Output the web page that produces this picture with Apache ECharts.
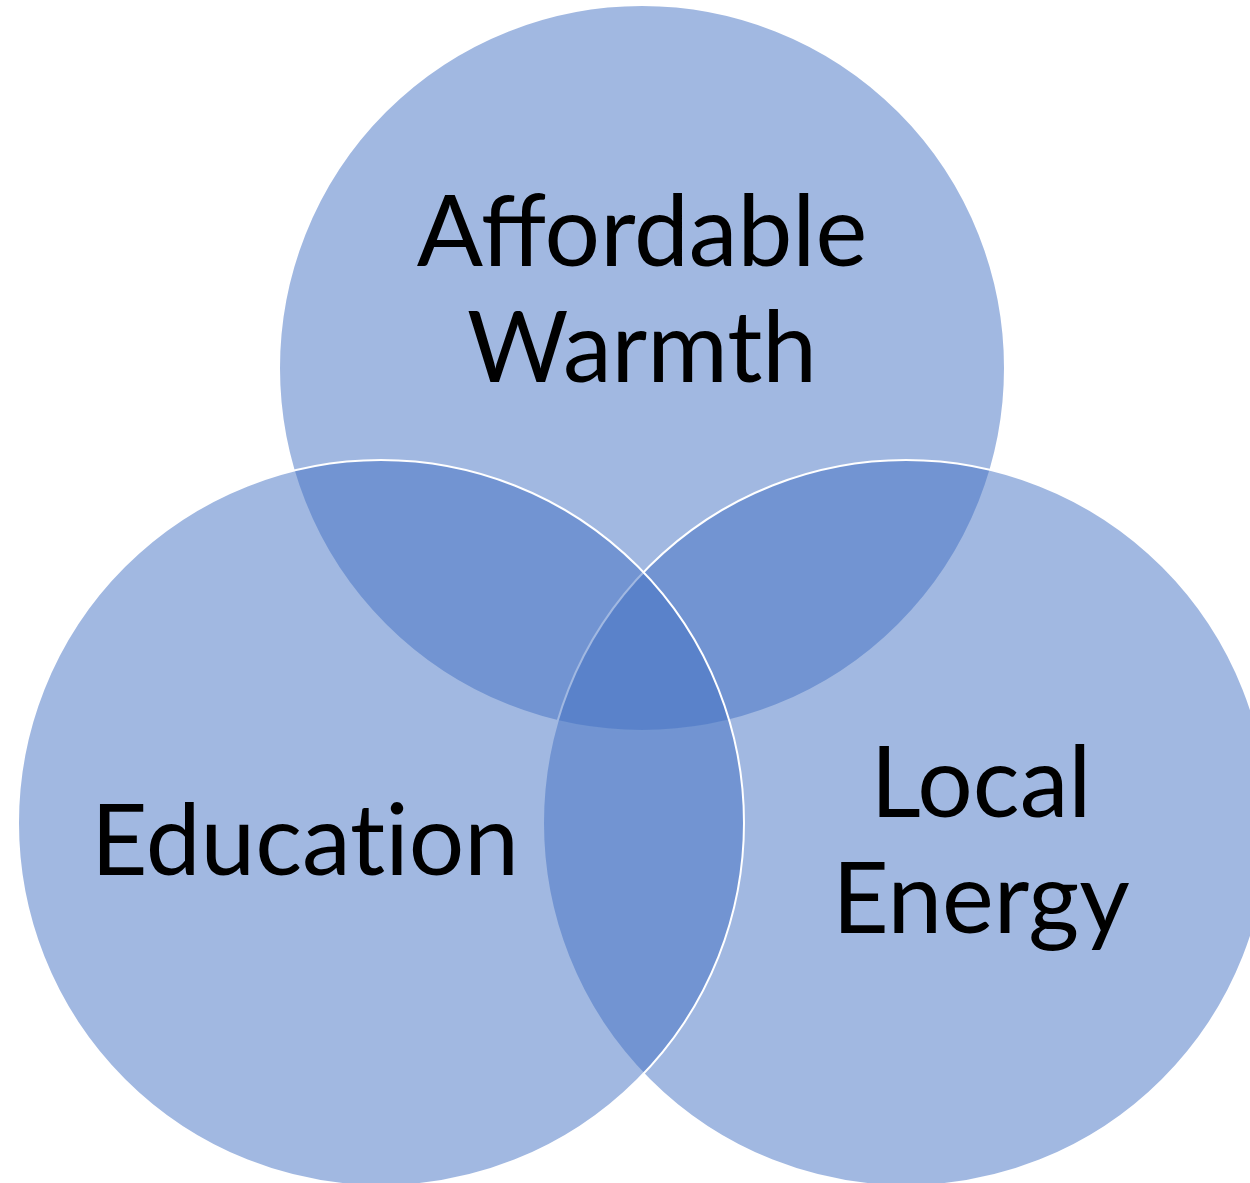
<!DOCTYPE html>
<html>
<head>
<meta charset="utf-8">
<script src="https://cdn.jsdelivr.net/npm/echarts@6/dist/echarts.min.js"></script>
<style>
    html, body { margin: 0; padding: 0; background: #fff; }
    #chart { width: 1250px; height: 1183px; }
</style>
</head>
<body>
<div id="chart"></div>
<script>
// 三个集合：名称、圆心、半径（单位与画布像素一致，y 轴向下）
// Education 中插入零宽非连字符，避免 Lato 的 "ti" 连字
const setNames = ['Affordable\nWarmth', 'Local\nEnergy', 'Educat\u200Cion'];
const centerX = [642, 906, 381];
const centerY = [368, 823, 823];
const radius = [363, 363, 363];

// 文字相对圆心的偏移（样式，不是数据）
const labelShift = [[0, -76], [75, 20], [-76, 20]];

const chart = echarts.init(document.getElementById('chart'));

const option = {
    animation: false,
    grid: { left: 0, right: 0, top: 0, bottom: 0 },
    xAxis: { type: 'value', min: 0, max: 1250, show: false },
    yAxis: { type: 'value', min: 0, max: 1183, inverse: true, show: false },
    series: [
        {
            type: 'custom',
            coordinateSystem: 'cartesian2d',
            clip: false,
            data: setNames.map((n, i) => [centerX[i], centerY[i], radius[i]]),
            renderItem: function (params, api) {
                const c = api.coord([api.value(0), api.value(1)]);
                const s = api.size([api.value(2), api.value(2)]);
                const r = Math.abs(s[0]);
                const shift = labelShift[params.dataIndex];
                return {
                    type: 'group',
                    children: [
                        {
                            type: 'circle',
                            shape: { cx: c[0], cy: c[1], r: r },
                            style: {
                                fill: 'rgba(68, 114, 196, 0.5)',
                                stroke: '#ffffff',
                                lineWidth: 2
                            }
                        },
                        {
                            type: 'text',
                            z2: 100,
                            style: {
                                x: c[0] + shift[0],
                                y: c[1] + shift[1],
                                text: setNames[params.dataIndex],
                                fill: '#000',
                                fontSize: 98,
                                fontFamily: 'Lato',
                                lineHeight: 116,
                                align: 'center',
                                verticalAlign: 'middle'
                            }
                        }
                    ]
                };
            }
        }
    ]
};

chart.setOption(option);
</script>
</body>
</html>
